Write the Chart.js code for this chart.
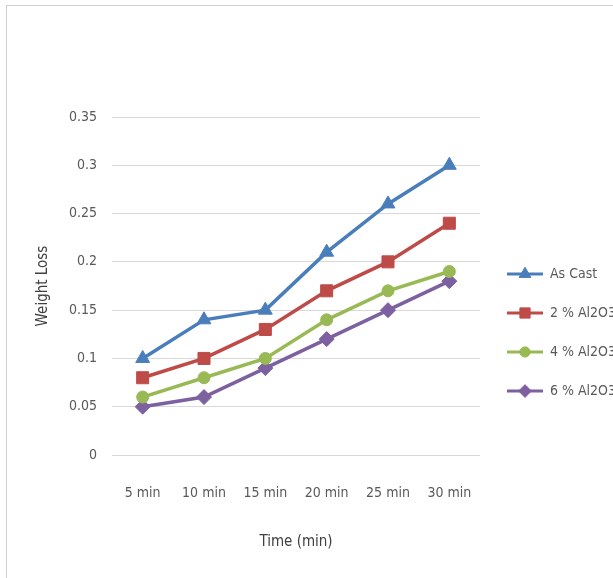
<!DOCTYPE html>
<html>
<head>
<meta charset="utf-8">
<script src="https://cdn.jsdelivr.net/npm/chart.js@4.4.1/dist/chart.umd.min.js"></script>
<style>
  html, body { margin: 0; padding: 0; background: #fff; overflow: hidden; }
  #wrap { position: relative; width: 613px; height: 578px; }
  #frame {
    position: absolute; left: 6px; top: 5px; width: 700px; height: 700px;
    border: 1px solid #d0d0d0; box-sizing: border-box;
  }
  canvas { position: absolute; left: 0; top: 0; }
</style>
</head>
<body>
<div id="wrap">
  <div id="frame"></div>
  <canvas id="lossChart" width="613" height="578"></canvas>
</div>
<script>
// DATA
const timeLabels = ["5 min", "10 min", "15 min", "20 min", "25 min", "30 min"];
const asCast = [0.1, 0.14, 0.15, 0.21, 0.26, 0.3];
const al2o3_2 = [0.08, 0.1, 0.13, 0.17, 0.2, 0.24];
const al2o3_4 = [0.06, 0.08, 0.1, 0.14, 0.17, 0.19];
const al2o3_6 = [0.05, 0.06, 0.09, 0.12, 0.15, 0.18];
const seriesNames = ["As Cast", "2 % Al2O3", "4 % Al2O3", "6 % Al2O3"];

const FONT = "'Liberation Sans Narrow', 'Arial Narrow', 'DejaVu Sans Condensed', sans-serif";
const TEXT = "#595959";

function makeSet(label, data, color, style, radius) {
    return {
        label: label,
        data: data,
        borderColor: color,
        backgroundColor: color,
        borderWidth: 3.5,
        pointStyle: style,
        pointRadius: radius,
        pointHoverRadius: radius,
        pointBorderWidth: 1,
        tension: 0
    };
}

// legend drawn to the right of the plot: short line + marker + name
const sideLegend = {
    id: "sideLegend",
    afterDraw(chart) {
        const ctx = chart.ctx;
        const startY = 274;
        const gap = 39;
        chart.data.datasets.forEach((ds, i) => {
            const y = startY + i * gap;
            ctx.save();
            ctx.strokeStyle = ds.borderColor;
            ctx.lineWidth = 3;
            ctx.beginPath();
            ctx.moveTo(507, y);
            ctx.lineTo(543, y);
            ctx.stroke();
            ctx.fillStyle = ds.backgroundColor;
            ctx.strokeStyle = ds.borderColor;
            ctx.lineWidth = 1;
            Chart.helpers.drawPoint(ctx, {
                pointStyle: ds.pointStyle,
                radius: ds.pointRadius * 0.85,
                borderWidth: 1
            }, 525, y);
            ctx.fillStyle = TEXT;
            ctx.font = "14px " + FONT;
            ctx.textBaseline = "middle";
            ctx.textAlign = "left";
            ctx.fillText(ds.label, 550, y);
            ctx.restore();
        });
    }
};

const ctx = document.getElementById("lossChart").getContext("2d");

new Chart(ctx, {
    type: "line",
    data: {
        labels: timeLabels,
        datasets: [
            makeSet(seriesNames[0], asCast, "#4a7ebb", "triangle", 8),
            makeSet(seriesNames[1], al2o3_2, "#be4b48", "rect", 8.5),
            makeSet(seriesNames[2], al2o3_4, "#98b954", "circle", 6),
            makeSet(seriesNames[3], al2o3_6, "#7d60a0", "rectRot", 7.5)
        ]
    },
    options: {
        responsive: false,
        animation: false,
        layout: { padding: { left: 30, top: 117, right: 133, bottom: 23 } },
        plugins: {
            legend: { display: false },
            tooltip: { enabled: false }
        },
        scales: {
            x: {
                offset: true,
                grid: { display: false },
                border: { display: false },
                ticks: { color: TEXT, font: { family: FONT, size: 14 }, padding: 22, maxRotation: 0 },
                title: {
                    display: true,
                    text: "Time (min)",
                    color: "#404040",
                    font: { family: FONT, size: 15 },
                    padding: { top: 22 }
                },
                afterFit(scale) { scale.height = 100; }
            },
            y: {
                min: 0,
                max: 0.35,
                grid: { color: "#d9d9d9", lineWidth: 1, drawTicks: false },
                border: { display: false },
                ticks: {
                    stepSize: 0.05,
                    color: TEXT,
                    font: { family: FONT, size: 14 },
                    padding: 15,
                    callback: v => String(+v.toFixed(2))
                },
                title: {
                    display: true,
                    text: "Weight Loss",
                    color: "#404040",
                    font: { family: FONT, size: 15 }
                },
                afterFit(scale) { scale.width = 82; }
            }
        }
    },
    plugins: [sideLegend]
});
</script>
</body>
</html>
